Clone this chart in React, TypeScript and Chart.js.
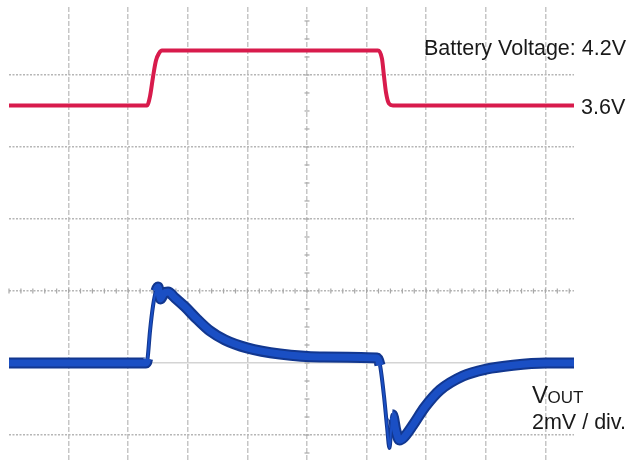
import React, { useEffect, useRef } from "react";
import { Chart, registerables } from "chart.js";

Chart.register(...registerables);

// Time axis in oscilloscope divisions
const batteryTime = [0, 2.315, 2.366, 2.416, 2.466, 2.517, 2.567, 6.191, 6.258, 6.292, 6.326, 6.376, 6.443, 9.48];
// Battery voltage (V)
const batteryVolts = [3.6, 3.6, 3.7, 3.91, 4.09, 4.17, 4.2, 4.2, 4.11, 3.92, 3.74, 3.62, 3.6, 3.6];

// VOUT deviation (mV), 2 mV / div
const voutTime = [
  0, 2.299, 2.324, 2.366, 2.416, 2.466, 2.5, 2.542, 2.601, 2.668, 2.785, 2.953, 3.154, 3.372, 3.624,
  3.993, 4.547, 5.218, 6.174, 6.225, 6.292, 6.342, 6.384, 6.409, 6.434, 6.493, 6.552, 6.628, 6.779,
  6.98, 7.232, 7.617, 8.003, 8.456, 9.01, 9.48,
];
const voutMv = [
  0, 0, 0.11, 0.89, 1.58, 2.0, 2.11, 1.78, 1.94, 1.97, 1.81, 1.56, 1.22, 0.89, 0.64,
  0.42, 0.25, 0.17, 0.14, -0.06, -0.92, -1.75, -2.36, -1.89, -1.44, -1.89, -2.14, -2.06, -1.72,
  -1.22, -0.75, -0.36, -0.17, -0.06, 0, 0,
];

// Grid divisions
const xGridTicks = [1, 2, 3, 4, 5, 6, 7, 8, 9];
const yGridTicks = [-2, -1, 0, 1, 2, 3];

const labelBattery = "Battery Voltage: 4.2V";
const labelLow = "3.6V";
const labelVout = ["V", "OUT"];
const labelScale = "2mV / div.";

const FONT = '"Liberation Sans", Arial, sans-serif';

const scopeDecor = {
  id: "scopeDecor",
  beforeDatasetsDraw(chart: any) {
    const { ctx, chartArea, scales } = chart;
    const x = scales.x;
    const y = scales.y;
    ctx.save();
    ctx.strokeStyle = "#a8a8a8";
    ctx.lineWidth = 1.2;
    // minor ticks on centre horizontal line (5 per div)
    const y0 = y.getPixelForValue(0);
    for (let v = 0; v <= x.max + 1e-6; v += 0.2) {
      const px = x.getPixelForValue(v);
      ctx.beginPath();
      ctx.moveTo(px, y0 - 2.5);
      ctx.lineTo(px, y0 + 2.5);
      ctx.stroke();
    }
    // minor ticks on centre vertical line (4 per div)
    const x5 = x.getPixelForValue(5);
    for (let v = Math.ceil(y.min * 4) / 4; v <= y.max; v += 0.25) {
      const py = y.getPixelForValue(v);
      if (py < chartArea.top) continue;
      ctx.beginPath();
      ctx.moveTo(x5 - 2.5, py);
      ctx.lineTo(x5 + 2.5, py);
      ctx.stroke();
    }
    ctx.restore();
  },
  afterDatasetsDraw(chart: any) {
    const { ctx, scales, chartArea } = chart;
    const yBat = scales.yBat;
    const yOut = scales.yOut;
    const right = chartArea.right;
    ctx.save();
    ctx.fillStyle = "#1a1a1a";
    ctx.textBaseline = "alphabetic";
    ctx.font = `21.5px ${FONT}`;
    ctx.textAlign = "right";
    ctx.fillText(labelBattery, 626, yBat.getPixelForValue(4.2) + 5);
    ctx.textAlign = "left";
    ctx.fillText(labelLow, right + 7, yBat.getPixelForValue(3.6) + 8.5);
    // VOUT
    const vx = 532;
    const vy = yOut.getPixelForValue(0) + 40;
    ctx.font = `24px ${FONT}`;
    ctx.fillText(labelVout[0], vx, vy);
    const w = ctx.measureText(labelVout[0]).width;
    ctx.font = `17px ${FONT}`;
    ctx.fillText(labelVout[1], vx + w - 0.5, vy);
    ctx.font = `21.5px ${FONT}`;
    ctx.fillText(labelScale, vx, vy + 26);
    ctx.restore();
  },
};

const steep = (c: any, thin: number, thick: number) => {
  const dx = c.p1.parsed.x - c.p0.parsed.x;
  const dy = c.p1.parsed.y - c.p0.parsed.y;
  return dx > 0 && Math.abs(dy / dx) > 8 ? thin : thick;
};

export default function App() {
  const ref = useRef<HTMLCanvasElement | null>(null);

  useEffect(() => {
    if (!ref.current) return;
    const batData = batteryTime.map((t, i) => ({ x: t, y: batteryVolts[i] }));
    const outData = voutTime.map((t, i) => ({ x: t, y: voutMv[i] }));
    const chart = new Chart(ref.current, {
      type: "line",
      data: {
        datasets: [
          {
            label: "Battery Voltage",
            data: batData,
            yAxisID: "yBat",
            borderColor: "#d81b4c",
            borderWidth: 4,
            pointRadius: 0,
            cubicInterpolationMode: "monotone",
            borderJoinStyle: "round",
            order: 0,
          },
          {
            label: "VOUT",
            data: outData,
            yAxisID: "yOut",
            borderColor: "#1a4fc4",
            borderWidth: 7,
            pointRadius: 0,
            cubicInterpolationMode: "monotone",
            borderJoinStyle: "round",
            segment: { borderWidth: (c: any) => steep(c, 2, 7) },
            order: 1,
          },
          {
            label: "VOUT edge",
            data: outData,
            yAxisID: "yOut",
            borderColor: "#12378f",
            borderWidth: 11,
            pointRadius: 0,
            cubicInterpolationMode: "monotone",
            borderJoinStyle: "round",
            segment: { borderWidth: (c: any) => steep(c, 4, 11) },
            order: 2,
          },
        ],
      },
      options: {
        animation: false,
        responsive: false,
        events: [],
        layout: { padding: { left: 9, right: 59, top: 7, bottom: 0 } },
        plugins: { legend: { display: false }, tooltip: { enabled: false } },
        scales: {
          x: {
            type: "linear",
            min: 0,
            max: 9.48,
            ticks: { display: false },
            afterBuildTicks: (axis: any) => {
              axis.ticks = xGridTicks.map((v) => ({ value: v }));
            },
            grid: { color: "#c6c6c6", lineWidth: 1.5, drawTicks: false },
            border: { display: false, dash: [5, 2] },
          },
          y: {
            type: "linear",
            min: -2.347,
            max: 3.944,
            ticks: { display: false },
            afterBuildTicks: (axis: any) => {
              axis.ticks = yGridTicks.map((v) => ({ value: v }));
            },
            grid: {
              color: (c: any) => (c.tick && c.tick.value === -1 ? "#d4d4d4" : "#b6b6b6"),
              lineWidth: 1.5,
              drawTicks: false,
            },
            border: {
              display: false,
              dash: (c: any) => (c.tick && c.tick.value === -1 ? [] : [2, 1.5]),
            },
          },
          yBat: { type: "linear", display: false, min: -0.266, max: 4.674 },
          yOut: { type: "linear", display: false, min: -2.694, max: 9.888 },
        },
      },
      plugins: [scopeDecor],
    } as any);
    return () => chart.destroy();
  }, []);

  return (
    <div style={{ position: "absolute", left: 0, top: 0, width: 633, height: 460, background: "#fff" }}>
      <canvas ref={ref} width={633} height={460} style={{ display: "block" }} />
    </div>
  );
}
